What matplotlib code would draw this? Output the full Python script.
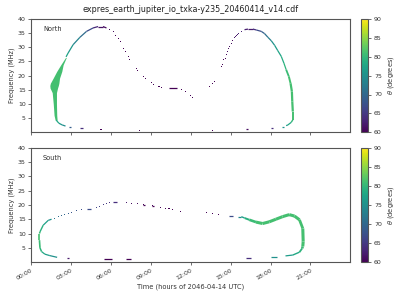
import numpy as np
import matplotlib
matplotlib.use("Agg")
import matplotlib.pyplot as plt
from matplotlib.collections import LineCollection
from matplotlib.colors import Normalize

# ---------------- data (time in hours, frequency in MHz, theta in degrees) ----------------
title = "expres_earth_jupiter_io_txka-y235_20460414_v14.cdf"
xlabel = "Time (hours of 2046-04-14 UTC)"
ylabel = "Frequency (MHz)"
cbar_label = r"$\theta$ (degrees)"
xticks_h = [0, 3, 6, 9, 12, 15, 18, 21]
xtick_labels = ["00:00", "03:00", "06:00", "09:00", "12:00", "15:00", "18:00", "21:00"]
yticks = [5, 10, 15, 20, 25, 30, 35, 40]
cbar_ticks = [60, 65, 70, 75, 80, 85, 90]

# North: wide emission band (freq, left time, right time)
north_band_f = [4.3, 6.0, 10.0, 14.0, 15.6, 16.5, 17.3, 19.1, 21.5, 23.8, 26.4]
north_band_t0 = [1.80, 1.72, 1.66, 1.58, 1.42, 1.40, 1.44, 1.65, 1.92, 2.22, 2.58]
north_band_t1 = [1.95, 1.92, 1.90, 1.90, 1.98, 2.04, 2.08, 2.13, 2.30, 2.40, 2.64]
north_band_theta = 81

# North continuous traces
north_a_t = [2.62, 2.78, 3.15, 3.66, 4.16, 4.65, 5.03, 5.40, 5.66]
north_a_f = [26.6, 28.0, 30.9, 33.5, 35.6, 36.8, 37.3, 37.3, 36.8]
north_a_th = [78, 77, 75, 72, 69, 65, 62, 61, 61]

north_tail_t = [1.88, 2.08, 2.33, 2.58]
north_tail_f = [4.3, 3.2, 2.6, 2.2]
north_tail_th = [79, 77, 75, 74]

north_b_t = [16.04, 16.30, 16.67, 16.92, 17.30, 17.55, 17.80, 18.05, 18.30, 18.54, 18.80, 19.00,
             19.17, 19.37, 19.50, 19.60, 19.63, 19.67, 19.67, 19.55, 19.30, 19.17]
north_b_f = [36.2, 36.4, 36.4, 36.1, 35.6, 34.8, 33.5, 32.3, 30.7, 28.8, 26.8, 24.4,
             22.1, 19.7, 17.3, 14.4, 10.8, 7.3, 4.4, 3.5, 2.6, 2.35]
north_b_th = [63, 62, 62, 66, 68, 70, 72, 74, 76, 77, 78, 79,
              80, 81, 81, 81, 81, 81, 81, 79, 77, 76]

# North isolated points
north_dot_t = [5.91, 6.16, 6.36, 6.53, 6.71, 6.91, 7.11, 7.31, 7.41, 7.91, 7.99, 8.48, 8.56,
               9.04, 9.23, 9.61, 9.83, 11.29, 11.59, 11.97, 12.16,
               13.42, 13.66, 13.77, 14.30, 14.37, 14.49, 14.60, 14.71, 14.79, 14.86, 14.94,
               15.04, 15.17, 15.29, 15.37, 15.44, 15.52, 15.62, 15.80,
               5.22, 5.32, 8.12, 13.66]
north_dot_f = [36.2, 35.4, 34.2, 33.0, 31.9, 29.7, 28.5, 26.8, 25.6, 22.4, 21.9, 19.6, 19.1,
               17.6, 16.9, 16.3, 15.9, 15.1, 14.4, 13.1, 12.4,
               16.0, 17.3, 17.9, 23.2, 23.8, 25.6, 26.2, 27.6, 28.5, 29.4, 30.1,
               31.2, 32.4, 33.4, 33.9, 34.2, 34.5, 35.0, 35.6,
               1.1, 1.1, 0.6, 0.6]
north_dot_th = [61, 61, 60, 60, 60, 60, 60, 60, 60, 60, 60, 60, 60,
                60, 60, 60, 60, 60, 60, 60, 60,
                60, 60, 60, 60, 60, 60, 60, 61, 61, 61, 61,
                61, 61, 62, 62, 62, 62, 63, 63,
                60, 60, 60, 60]

# North short dashes (start time, end time, freq, theta)
north_dash_t0 = [2.84, 3.70, 10.36, 16.15, 18.00, 18.82]
north_dash_t1 = [3.00, 3.92, 10.99, 16.32, 18.16, 18.98]
north_dash_f = [1.9, 1.6, 15.6, 1.1, 1.5, 2.0]
north_dash_th = [69, 64, 60, 61, 64, 75]

# South continuous traces
south_a_t = [1.95, 1.40, 1.03, 0.78, 0.66, 0.62, 0.62, 0.66, 0.90, 1.28, 1.53]
south_a_f = [1.7, 2.3, 2.8, 3.7, 5.0, 7.7, 10.0, 10.6, 12.9, 14.6, 15.0]
south_a_th = [74, 76, 77, 79, 80, 81, 81, 80, 78, 76, 74]

south_b_t = [15.80, 16.05, 16.40, 16.90, 17.40, 17.90, 18.40, 18.90, 19.40, 19.80, 20.17,
             20.42, 20.45, 20.42, 20.37, 20.17, 19.67, 19.12]
south_b_f = [15.9, 15.4, 14.8, 14.0, 13.5, 14.1, 15.0, 15.9, 16.6, 16.1, 14.8,
             11.8, 7.2, 5.5, 4.8, 3.5, 2.5, 2.2]
south_b_th = [76, 78, 80, 81, 81, 81, 81, 81, 81, 81, 81,
              81, 81, 81, 80, 79, 77, 76]

# South isolated points
south_dot_t = [1.78, 2.03, 2.28, 2.53, 2.78, 3.03, 3.41, 3.78, 4.91, 5.16, 5.41, 5.66, 5.91,
               7.16, 7.54, 7.96, 8.46, 9.11, 9.71, 10.09, 10.36, 10.62, 11.22,
               13.17, 13.62, 14.09]
south_dot_f = [15.4, 15.8, 16.3, 16.7, 17.1, 17.5, 18.0, 18.4, 19.1, 19.6, 20.1, 20.4, 20.8,
               21.0, 20.6, 20.4, 20.1, 19.7, 19.2, 18.9, 18.6, 18.3, 17.6,
               17.3, 17.0, 16.6]
south_dot_th = [72, 71, 70, 70, 69, 68, 68, 67, 66, 66, 65, 65, 64,
                62, 61, 61, 60, 60, 60, 60, 60, 60, 60,
                60, 60, 60]

south_dash_t0 = [4.16, 6.16, 8.40, 9.05, 14.88, 15.55, 2.70, 5.50, 7.10, 16.18, 18.05]
south_dash_t1 = [4.53, 6.46, 8.55, 9.20, 15.15, 15.80, 2.86, 6.10, 7.50, 16.52, 18.45]
south_dash_f = [18.7, 21.0, 20.1, 19.7, 16.3, 15.9, 1.4, 1.2, 1.2, 1.4, 1.8]
south_dash_th = [67, 64, 60, 60, 67, 74, 62, 60, 60, 64, 75]

# ---------------- drawing ----------------
cmap = plt.get_cmap("viridis")
norm = Normalize(vmin=60, vmax=90)
plt.rcParams["font.family"] = ["DejaVu Sans"]

fig = plt.figure(figsize=(4, 3), dpi=100)
ax_n = fig.add_axes([0.078, 0.559, 0.798, 0.378])
ax_s = fig.add_axes([0.078, 0.126, 0.798, 0.382])
cax_n = fig.add_axes([0.902, 0.559, 0.019, 0.378])
cax_s = fig.add_axes([0.902, 0.126, 0.019, 0.382])

spine_col = "#555555"


def trace(ax, t, f, th, lw):
    pts = np.column_stack([t, f])
    segs = np.stack([pts[:-1], pts[1:]], axis=1)
    th = np.asarray(th, float)
    lc = LineCollection(segs, colors=cmap(norm((th[:-1] + th[1:]) / 2)),
                        linewidths=lw, capstyle="butt")
    ax.add_collection(lc)


def dots(ax, t, f, th):
    ax.scatter(t, f, c=th, cmap=cmap, norm=norm, marker="s", s=0.55, linewidths=0)


def dashes(ax, t0, t1, f, th):
    for a, b, y, c in zip(t0, t1, f, th):
        ax.plot([a, b], [y, y], color=cmap(norm(c)), lw=0.9, solid_capstyle="butt")


# North
ax_n.fill_betweenx(north_band_f, north_band_t0, north_band_t1,
                   color=cmap(norm(north_band_theta)), lw=0)
trace(ax_n, north_a_t, north_a_f, north_a_th, 0.9)
trace(ax_n, north_tail_t, north_tail_f, north_tail_th, 0.9)
lw_b = [0.9] * 12 + [1.3, 1.4, 1.6, 1.6, 1.6, 1.4, 1.0, 0.9, 0.9]
trace(ax_n, north_b_t, north_b_f, north_b_th, lw_b)
dots(ax_n, north_dot_t, north_dot_f, north_dot_th)
dashes(ax_n, north_dash_t0, north_dash_t1, north_dash_f, north_dash_th)

# South
trace(ax_s, south_a_t, south_a_f, south_a_th, [0.9, 0.9, 0.9, 1.1, 1.2, 1.2, 1.1, 1.0, 0.9, 0.9])
lw_sb = [1.0, 1.4, 1.9, 2.2, 2.2, 2.2, 2.2, 2.2, 2.2, 2.2, 2.0, 2.2, 2.2, 1.8, 1.3, 1.0, 0.9]
trace(ax_s, south_b_t, south_b_f, south_b_th, lw_sb)
dots(ax_s, south_dot_t, south_dot_f, south_dot_th)
dashes(ax_s, south_dash_t0, south_dash_t1, south_dash_f, south_dash_th)

for ax, name in [(ax_n, "North"), (ax_s, "South")]:
    ax.set_xlim(0, 24)
    ax.set_ylim(0, 40)
    ax.set_yticks(yticks)
    ax.set_xticks(xticks_h)
    ax.set_ylabel(ylabel, fontsize=4.8, color="#333333", labelpad=2)
    ax.tick_params(labelsize=4.5, length=2.5, width=0.6, colors=spine_col,
                   labelcolor="#333333", pad=1.5)
    for sp in ax.spines.values():
        sp.set_color(spine_col)
        sp.set_linewidth(0.8)
    ax.text(0.037, 0.91, name, transform=ax.transAxes, fontsize=4.8,
            color="#333333", va="center", ha="left")

ax_n.set_xticklabels([])
ax_s.set_xticklabels(xtick_labels, rotation=30, ha="right", rotation_mode="anchor")
ax_s.set_xlabel(xlabel, fontsize=4.8, color="#333333", labelpad=2)
ax_n.set_title(title, fontsize=5.8, color="#222222", pad=5)

sm = plt.cm.ScalarMappable(norm=norm, cmap=cmap)
for cax in (cax_n, cax_s):
    cb = fig.colorbar(sm, cax=cax, ticks=cbar_ticks)
    cb.set_label(cbar_label, fontsize=4.8, color="#333333", labelpad=3)
    cb.ax.tick_params(labelsize=4.5, length=2.5, width=0.6, colors=spine_col,
                      labelcolor="#333333", pad=1.5)
    cb.outline.set_edgecolor(spine_col)
    cb.outline.set_linewidth(0.8)

fig.savefig("out.png", dpi=100)
